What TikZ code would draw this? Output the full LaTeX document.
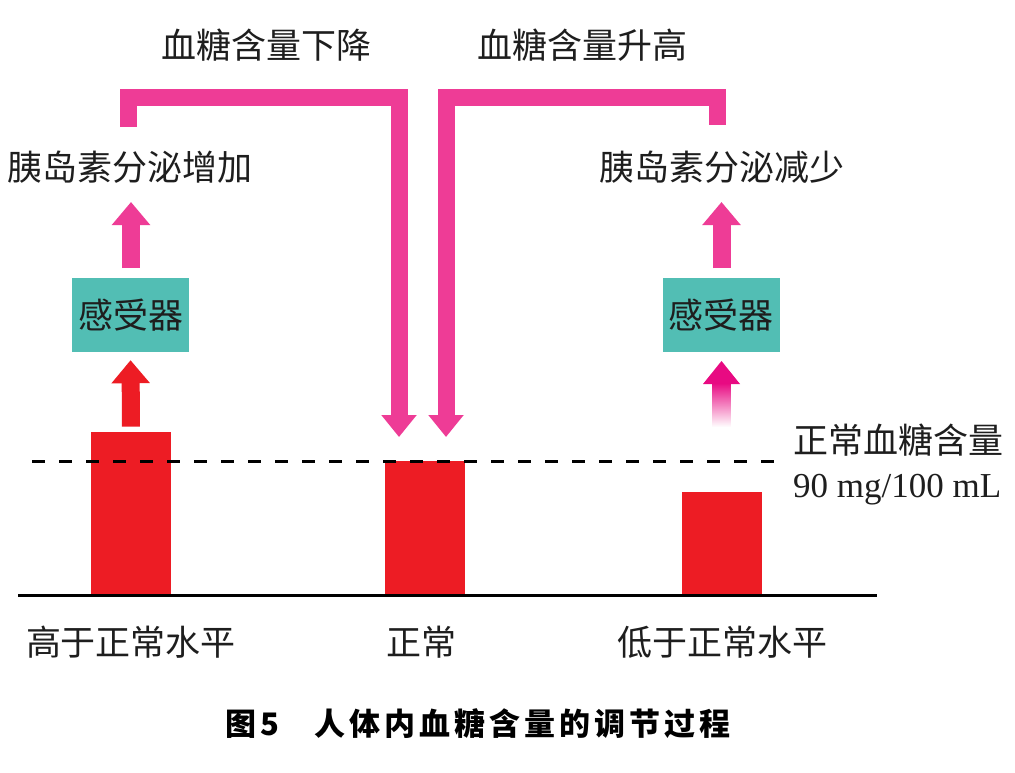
\documentclass[tikz,border=0pt]{standalone}
\usepackage{fontspec}
\setmainfont{Liberation Serif}
\newfontfamily\cjk{Noto Sans CJK SC}
\usetikzlibrary{arrows.meta}
\definecolor{barred}{RGB}{237,28,36}
\definecolor{pinkc}{RGB}{238,60,150}
\definecolor{magdeep}{RGB}{232,10,130}
\definecolor{tealc}{RGB}{82,190,180}
\definecolor{txtc}{RGB}{30,30,30}
\tikzset{
  txt/.style={font=\cjk\fontsize{35}{40}\selectfont, inner sep=0pt, text=txtc},
  bar/.style={fill=barred, draw=none, minimum width=80pt, inner sep=0pt, anchor=south},
  sensor/.style={fill=tealc, draw=none, minimum width=117pt, minimum height=74pt, inner sep=0pt, font=\cjk\fontsize{35}{40}\selectfont, text=txtc},
  uparr/.style={line width=18pt, -{Triangle[width=37pt,length=23pt]}},
  bracket/.style={draw=pinkc, line width=17pt, line join=miter, -{Triangle[width=34pt,length=22pt]}},
}
\newcommand{\capchars}{\cjk\bfseries 图\hspace{4pt}5\hspace{36pt}人\hspace{4pt}体\hspace{4pt}内\hspace{4pt}血\hspace{4pt}糖\hspace{4pt}含\hspace{4pt}量\hspace{4pt}的\hspace{4pt}调\hspace{4pt}节\hspace{4pt}过\hspace{4pt}程}
\begin{document}
\begin{tikzpicture}[x=1pt,y=-1pt]
\useasboundingbox[fill=white] (0,0) rectangle (1015,773);
% bars
\node[bar, minimum height=163pt] (barL) at (131,595) {};
\node[bar, minimum height=134pt] (barM) at (425,595) {};
\node[bar, minimum height=103pt] (barR) at (721.5,595) {};
% baseline and dashed normal line
\coordinate (baseA) at (18,595);
\coordinate (baseB) at (877,595);
\draw[line width=3pt] (baseA) -- (baseB);
\coordinate (dashA) at (32,461);
\coordinate (dashB) at (783,461);
\draw[line width=3pt, dash pattern=on 13pt off 14pt] (dashA) -- (dashB);
% bottom labels
\node[txt] (lblL) at (131,642) {高于正常水平};
\node[txt] (lblM) at (421,642) {正常};
\node[txt] (lblR) at (722,642) {低于正常水平};
% sensors
\node[sensor] (senL) at (130.5,315) {感受器};
\node[sensor] (senR) at (721,315) {感受器};
% texts
\node[txt] (insL) at (130,167) {胰岛素分泌增加};
\node[txt] (insR) at (722,167) {胰岛素分泌减少};
\node[txt] (downT) at (266,45) {血糖含量下降};
\node[txt] (upT) at (582,45) {血糖含量升高};
\node[txt, anchor=west] (normT) at (793,440) {正常血糖含量};
\node[anchor=west, inner sep=0pt, font=\fontsize{35}{40}\selectfont, text=txtc] (normV) at (793,490) {90 mg/100 mL};
% left arrows
\draw[uparr, draw=barred, shorten <=5pt, shorten >=8pt] (barL.north) -- (senL.south);
\coordinate (lA1) at (131,268);
\coordinate (lA2) at (131,202);
\draw[uparr, draw=pinkc] (lA1) -- (lA2);
% right arrows
\coordinate (rA1) at (721.5,268);
\coordinate (rA2) at (721.5,202);
\draw[uparr, draw=pinkc] (rA1) -- (rA2);
\shade[top color=magdeep, middle color=magdeep, bottom color=white] (712.5,427) rectangle (730.5,383);
\fill[magdeep] (703,384) -- (740,384) -- (721.5,361) -- cycle;
% brackets
\coordinate (bL0) at (128,127);
\coordinate (bL1) at (128,97.5);
\coordinate (bL2) at (399,97.5);
\coordinate (bL3) at (399,437);
\draw[bracket] (bL0) -- (bL1) -- (bL2) -- (bL3);
\coordinate (bR0) at (717,125);
\coordinate (bR1) at (717,97.5);
\coordinate (bR2) at (446,97.5);
\coordinate (bR3) at (446,437);
\draw[bracket] (bR0) -- (bR1) -- (bR2) -- (bR3);
% caption
\node[inner sep=0pt, font=\fontsize{31}{36}\selectfont, text=black] (cap) at (478,724) {\capchars};
\end{tikzpicture}
\end{document}
